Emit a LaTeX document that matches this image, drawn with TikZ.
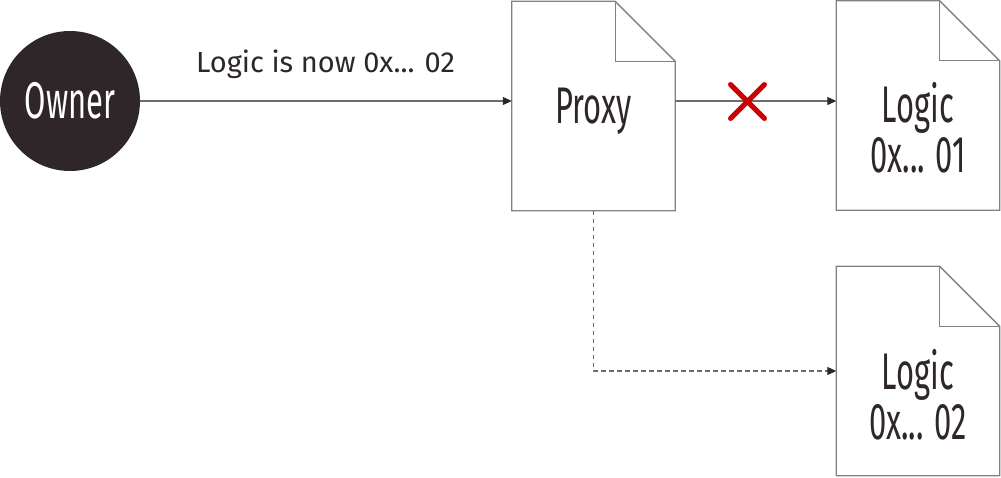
\documentclass[tikz,border=0pt]{standalone}
\usepackage{fontspec}
\setmainfont{Fira Sans}
\newfontfamily\condfont[FakeStretch=0.6]{Fira Sans}
\usetikzlibrary{arrows.meta}
\definecolor{ink}{HTML}{2E2629}
\definecolor{edgegray}{HTML}{857F81}
\definecolor{linegray}{HTML}{6F6B6C}
\definecolor{xred}{HTML}{CC0000}
\tikzset{
  docnode/.style={draw=none, minimum width=163pt, minimum height=209pt, inner sep=0pt},
  docline/.style={draw=edgegray, line width=1.3pt, fill=white, line join=miter},
  conn/.style={draw=linegray, line width=1.1pt, -{Triangle[length=9pt,width=8pt,color=ink]}},
  bigtext/.style={font=\condfont\fontsize{51.5}{50}\selectfont, text=ink, inner sep=0pt},
  smalltext/.style={font=\fontsize{29}{29}\selectfont, text=ink, inner sep=0pt}
}
\newcommand\mydoc[1]{%
  \draw[docline] (#1.north west) -- ([xshift=-60pt]#1.north east) -- ([yshift=-60pt]#1.north east) -- (#1.south east) -- (#1.south west) -- cycle;
  \draw[docline, fill=none] ([xshift=-60pt]#1.north east) -- ([xshift=-60pt,yshift=-60pt]#1.north east) -- ([yshift=-60pt]#1.north east);
}
\begin{document}
\begin{tikzpicture}[x=1pt,y=-1pt]
\useasboundingbox (0,0) rectangle (1001,477);
% nodes
\node[circle, fill=ink, minimum size=140pt, inner sep=0pt, font=\condfont\fontsize{51.5}{50}\selectfont, text=white] (owner) at (70,101) {Owner};
\node[docnode] (proxy) at (593.5,106) {};
\node[docnode] (logicA) at (918,105.5) {};
\node[docnode] (logicB) at (918,371) {};
\mydoc{proxy}
\mydoc{logicA}
\mydoc{logicB}
\node[bigtext, anchor=base] (proxytext) at (593.5,123) {Proxy};
\node[bigtext, anchor=base] (logicAtext) at (918,122) {\begin{tabular}[t]{@{}c@{}}Logic\\0x... 01\end{tabular}};
\node[bigtext, anchor=base] (logicBtext) at (918,389) {\begin{tabular}[t]{@{}c@{}}Logic\\0x... 02\end{tabular}};
% connectors
\draw[conn] (owner.east) -- (owner.east -| proxy.west);
\node[smalltext, anchor=base] (lbl) at (325.5,72) {Logic is now 0x... 02};
\draw[conn] (owner.east -| proxy.east) -- (owner.east -| logicA.west);
\draw[conn, dashed, dash pattern=on 4.5pt off 3.5pt] (proxy.south) |- (logicB.west);
% red cross
\coordinate (xmark) at (747.5,101.5);
\draw[xred, line width=5pt, line cap=round] ([shift={(-17pt,-17pt)}]xmark) -- ([shift={(17pt,17pt)}]xmark);
\draw[xred, line width=5pt, line cap=round] ([shift={(-17pt,17pt)}]xmark) -- ([shift={(17pt,-17pt)}]xmark);
\end{tikzpicture}
\end{document}
